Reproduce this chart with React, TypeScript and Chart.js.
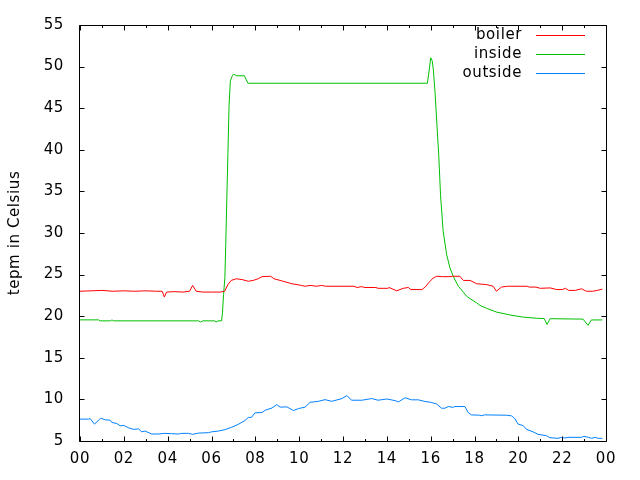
import React, { useEffect, useRef } from "react";
import { Chart, registerables } from "chart.js";

Chart.register(...registerables);

const seriesLabels = ["boiler", "inside", "outside"];
const seriesColors = ["#ff0000", "#00c000", "#0080ff"];

const boilerHours = [0, 0.5, 1.0, 1.5, 2.0, 2.5, 3.0, 3.5, 3.75, 3.85, 3.95, 4.3, 4.7, 5.0, 5.14, 5.3, 5.6, 6.0, 6.4, 6.6, 6.75, 6.9, 7.13, 7.4, 7.68, 7.9, 8.13, 8.3, 8.7, 8.85, 9.2, 9.67, 10.1, 10.27, 10.5, 10.8, 11.03, 11.2, 12.5, 12.63, 12.85, 13.0, 13.5, 13.6, 14.05, 14.1, 14.45, 14.75, 14.98, 15.1, 15.6, 15.75, 15.9, 16.12, 16.27, 16.55, 16.88, 17.0, 17.33, 17.49, 17.8, 18.1, 18.55, 18.85, 19.0, 19.23, 19.5, 20.4, 20.5, 20.8, 21.0, 21.45, 21.75, 22.0, 22.15, 22.3, 22.6, 22.88, 23.1, 23.4, 23.6, 23.83];
const boilerTemps = [23.0, 23.05, 23.1, 23.0, 23.05, 23.0, 23.05, 23.0, 23.0, 22.3, 22.9, 22.95, 22.9, 23.0, 23.7, 23.0, 22.9, 22.9, 22.9, 23.0, 23.8, 24.3, 24.5, 24.4, 24.2, 24.3, 24.5, 24.75, 24.8, 24.5, 24.25, 23.9, 23.7, 23.6, 23.7, 23.6, 23.7, 23.6, 23.6, 23.45, 23.55, 23.45, 23.45, 23.35, 23.35, 23.45, 23.05, 23.35, 23.45, 23.2, 23.2, 23.5, 24.0, 24.6, 24.8, 24.75, 24.75, 24.8, 24.8, 24.3, 24.3, 23.9, 23.8, 23.6, 23.0, 23.5, 23.6, 23.6, 23.5, 23.5, 23.35, 23.4, 23.2, 23.2, 23.35, 23.1, 23.1, 23.3, 23.0, 23.0, 23.1, 23.25];

const insideHours = [0, 0.85, 0.92, 1.4, 1.46, 1.52, 5.4, 5.5, 5.6, 6.15, 6.2, 6.3, 6.46, 6.5, 6.55, 6.61, 6.65, 6.7, 6.75, 6.8, 6.86, 6.95, 7.0, 7.15, 7.5, 7.66, 15.85, 15.93, 16.0, 16.07, 16.12, 16.2, 16.27, 16.37, 16.45, 16.57, 16.73, 16.88, 17.03, 17.26, 17.49, 17.64, 17.8, 18.1, 18.25, 18.55, 19.0, 19.61, 20.2, 20.83, 21.18, 21.31, 21.45, 22.95, 23.18, 23.33, 23.83];
const insideTemps = [19.56, 19.56, 19.44, 19.44, 19.56, 19.44, 19.44, 19.3, 19.44, 19.44, 19.3, 19.44, 19.44, 20.4, 22.6, 24.6, 28.6, 34.2, 39.7, 45.3, 48.3, 48.9, 49.1, 48.9, 48.9, 48.0, 48.0, 49.5, 51.06, 50.7, 49.7, 46.9, 43.7, 39.3, 34.6, 30.2, 27.4, 25.8, 24.8, 23.6, 22.9, 22.4, 22.1, 21.6, 21.3, 20.95, 20.5, 20.15, 19.9, 19.75, 19.72, 19.0, 19.7, 19.65, 18.9, 19.55, 19.55];

const outsideHours = [0, 0.4, 0.46, 0.66, 0.9, 0.97, 1.15, 1.38, 1.45, 1.68, 1.83, 2.0, 2.2, 2.43, 2.67, 2.82, 2.97, 3.27, 3.57, 3.87, 4.17, 4.49, 4.65, 4.95, 5.14, 5.4, 5.86, 6.0, 6.33, 6.61, 6.92, 7.22, 7.53, 7.68, 7.83, 7.98, 8.3, 8.45, 8.76, 8.98, 9.13, 9.44, 9.74, 9.97, 10.27, 10.5, 10.88, 11.18, 11.49, 11.95, 12.17, 12.4, 12.86, 13.31, 13.6, 14.0, 14.38, 14.53, 14.83, 15.13, 15.43, 15.74, 16.0, 16.27, 16.5, 16.65, 16.8, 17.03, 17.1, 17.56, 17.71, 17.86, 18.24, 18.31, 18.46, 19.46, 19.69, 19.84, 19.99, 20.22, 20.37, 20.67, 20.9, 21.28, 21.44, 21.81, 21.97, 22.12, 22.27, 22.88, 22.99, 23.2, 23.35, 23.5, 23.65, 23.83];
const outsideTemps = [7.63, 7.63, 7.7, 7.03, 7.63, 7.72, 7.55, 7.5, 7.23, 7.1, 6.83, 6.87, 6.6, 6.4, 6.45, 6.1, 6.2, 5.84, 5.84, 5.92, 5.88, 5.84, 5.92, 5.92, 5.8, 5.95, 6.0, 6.1, 6.2, 6.36, 6.65, 7.0, 7.47, 7.83, 7.85, 8.38, 8.42, 8.7, 8.97, 9.38, 9.07, 9.1, 8.66, 8.9, 9.07, 9.65, 9.77, 9.97, 9.77, 10.1, 10.45, 9.9, 9.9, 10.1, 9.9, 10.05, 9.85, 9.7, 10.2, 9.95, 9.95, 9.75, 9.65, 9.45, 8.94, 8.94, 9.14, 9.05, 9.14, 9.14, 8.42, 8.14, 8.1, 8.04, 8.14, 8.1, 8.02, 7.7, 7.03, 6.85, 6.4, 6.1, 5.8, 5.64, 5.4, 5.32, 5.44, 5.36, 5.44, 5.44, 5.56, 5.44, 5.32, 5.44, 5.32, 5.32];

const xTickLabels = ["00", "02", "04", "06", "08", "10", "12", "14", "16", "18", "20", "22", "00"];
const yAxisTitle = "tepm in Celsius";

const FONT = "'DejaVu Sans', sans-serif";

const toPoints = (hs: number[], vs: number[]) => hs.map((h, i) => ({ x: h, y: vs[i] }));

const framePlugin = {
  id: "gnuplotFrame",
  beforeDraw(chart: any) {
    chart.ctx.letterSpacing = "0.6px";
  },
  afterDraw(chart: any) {
    const { ctx, chartArea } = chart;
    const { left, right, top, bottom } = chartArea;
    const xs = chart.scales.x;
    const ys = chart.scales.y;
    ctx.save();
    ctx.strokeStyle = "#000";
    ctx.lineWidth = 1;
    const L = Math.round(left) - 0.5;
    const R = Math.round(right) + 0.5;
    const T = Math.round(top) + 0.5;
    const B = Math.round(bottom) + 0.5;
    ctx.beginPath();
    ctx.rect(L, T, R - L, B - T);
    ctx.stroke();
    ctx.beginPath();
    xs.ticks.forEach((t: any) => {
      const px = Math.round(xs.getPixelForValue(t.value)) + 0.5;
      const len = Math.round(t.value) % 2 === 0 ? 5 : 2.5;
      ctx.moveTo(px, B);
      ctx.lineTo(px, B - len);
      ctx.moveTo(px, T);
      ctx.lineTo(px, T + len);
    });
    ys.ticks.forEach((t: any) => {
      const py = Math.round(ys.getPixelForValue(t.value)) + 0.5;
      ctx.moveTo(L, py);
      ctx.lineTo(L + 5, py);
      ctx.moveTo(R, py);
      ctx.lineTo(R - 5, py);
    });
    ctx.stroke();
    // key
    ctx.font = `15px ${FONT}`;
    ctx.textAlign = "right";
    ctx.textBaseline = "middle";
    seriesLabels.forEach((label, i) => {
      const y = 35 + i * 19;
      ctx.fillStyle = "#000";
      ctx.fillText(label, 522, y);
      ctx.fillStyle = seriesColors[i];
      ctx.fillRect(536, y, 49, 1);
    });
    ctx.restore();
    ctx.letterSpacing = "0px";
  },
};

export default function App() {
  const ref = useRef<HTMLCanvasElement>(null);
  useEffect(() => {
    document.body.style.margin = "0";
    const hours = [boilerHours, insideHours, outsideHours];
    const temps = [boilerTemps, insideTemps, outsideTemps];
    const chart = new Chart(ref.current as HTMLCanvasElement, {
      type: "line",
      data: {
        datasets: seriesLabels.map((label, i) => ({
          label,
          data: toPoints(hours[i], temps[i]),
          borderColor: seriesColors[i],
          backgroundColor: seriesColors[i],
          borderWidth: 1,
          pointRadius: 0,
          tension: 0,
          fill: false,
        })),
      },
      options: {
        animation: false,
        responsive: false,
        layout: { padding: { top: 22, right: 34, left: 0, bottom: 0 } },
        plugins: { legend: { display: false }, tooltip: { enabled: false } },
        scales: {
          x: {
            type: "linear",
            min: 0,
            max: 24,
            grid: { display: false, drawTicks: false },
            border: { display: false },
            ticks: {
              stepSize: 1,
              autoSkip: false,
              maxRotation: 0,
              padding: 9,
              color: "#000",
              font: { family: FONT, size: 15 },
              callback: (v: any) => (Math.round(v) % 2 === 0 ? xTickLabels[Math.round(v) / 2] : ""),
            },
            afterFit: (s: any) => {
              s.height = 39;
            },
          },
          y: {
            min: 5,
            max: 55,
            grid: { display: false, drawTicks: false },
            border: { display: false },
            ticks: {
              stepSize: 5,
              padding: 16,
              color: "#000",
              font: { family: FONT, size: 15 },
            },
            title: {
              display: true,
              text: yAxisTitle,
              color: "#000",
              font: { family: FONT, size: 15 },
              padding: { top: 6, bottom: 4 },
            },
            afterFit: (s: any) => {
              s.width = 80;
            },
          },
        },
      },
      plugins: [framePlugin],
    });
    return () => chart.destroy();
  }, []);
  return (
    <div style={{ position: "absolute", left: 0, top: 0, width: 640, height: 480, background: "#fff" }}>
      <canvas ref={ref} width={640} height={480} style={{ display: "block" }} />
    </div>
  );
}
